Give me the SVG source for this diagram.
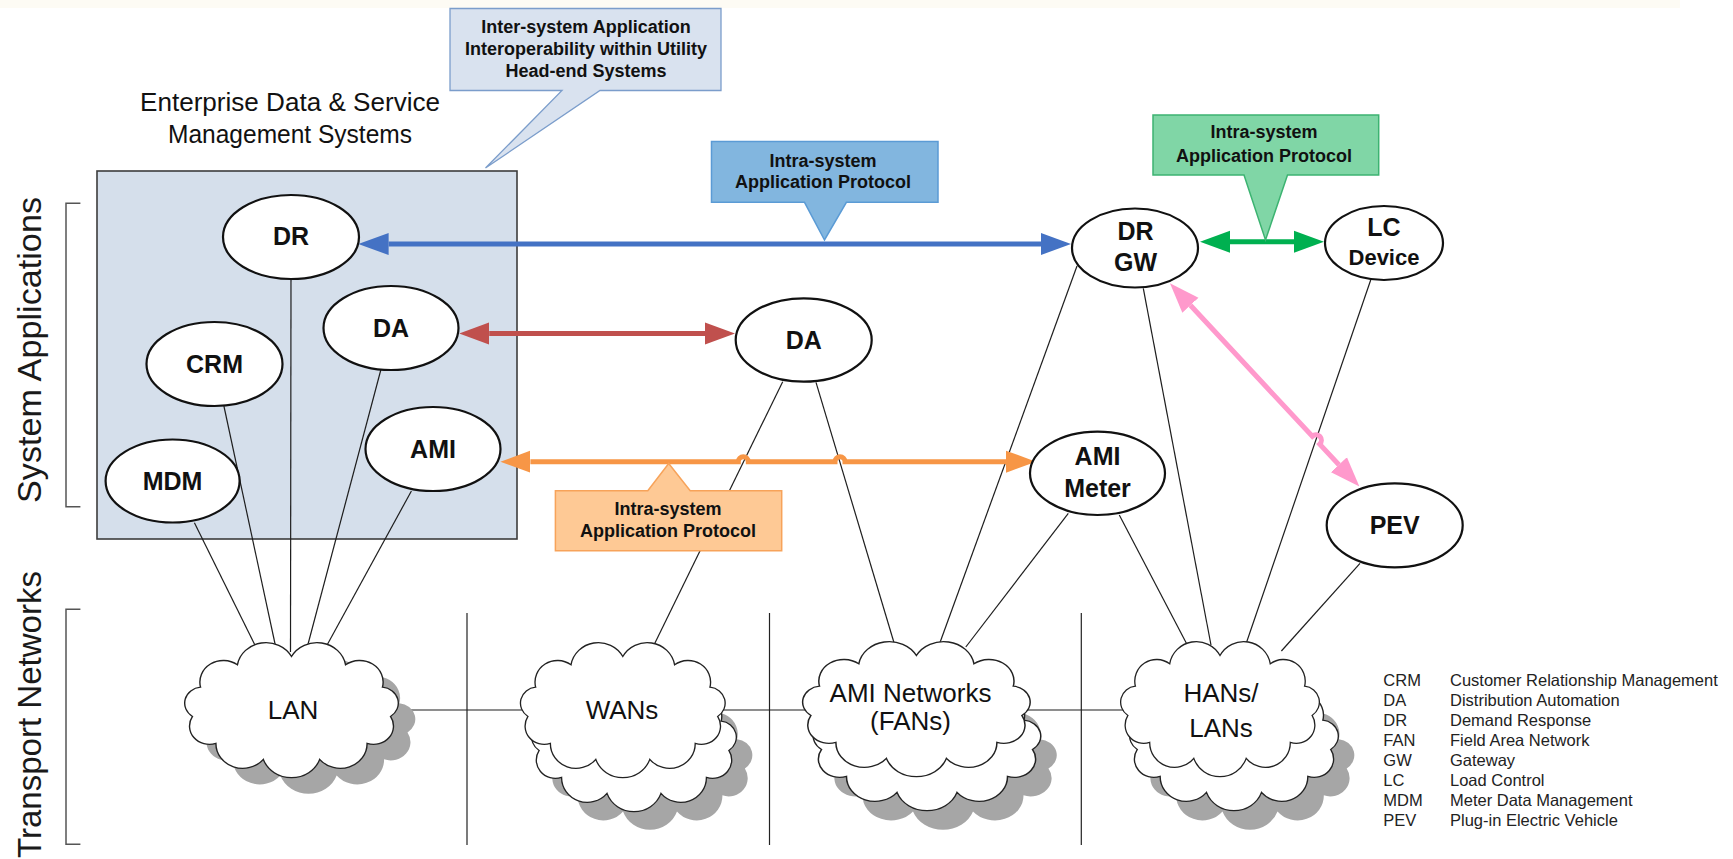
<svg xmlns="http://www.w3.org/2000/svg" width="1733" height="859" viewBox="0 0 1733 859">
  <style>
    text { font-family: "Liberation Sans", Arial, Helvetica, sans-serif; fill: #111; }
    .node ellipse { fill: #fff; stroke: #111; stroke-width: 2.2; }
    .node text { font-weight: bold; font-size: 25px; text-anchor: middle; }
    .node text.small { font-size: 22px; }
    .link { stroke: #1e1e1e; stroke-width: 1.2; fill: none; }
    .sep { stroke: #222; stroke-width: 1.2; }
    .bracket { fill: none; stroke: #555; stroke-width: 1.5; }
    .cloud { fill: #fff; stroke: #222; stroke-width: 1.3; }
    .cloud-shadow { fill: #a6a6a6; stroke: none; }
    .net text { font-size: 26px; text-anchor: middle; }
    .callout text { font-weight: bold; font-size: 18px; text-anchor: middle; }
    .legend text { font-size: 16.5px; fill: #222; }
    .proto { fill: none; stroke-width: 5; }
    .axis text { font-size: 34px; text-anchor: middle; fill: #1a1a1a; }
  </style>
  <defs>
    <!-- generic cloud outline centred on the origin, about 200 x 135 -->
    <path id="cloud" d="M0,-53 A27,27 0 0 1 50.3,-44.6 A21.8,21.8 0 0 1 84.6,-22 A16.1,16.1 0 0 1 92.1,7.5 A18.5,18.5 0 0 1 70.3,34.7 A24.9,24.9 0 0 1 26.2,50.9 A27.8,27.8 0 0 1 -26.2,50.9 A24.9,24.9 0 0 1 -70.3,34.7 A18.5,18.5 0 0 1 -92.1,7.5 A16.1,16.1 0 0 1 -84.6,-22 A21.8,21.8 0 0 1 -50.3,-44.6 A27,27 0 0 1 0,-53 Z"/>
    <marker id="ah-blue" viewBox="0 -12 30 24" refX="0" refY="0" markerWidth="30" markerHeight="24" markerUnits="userSpaceOnUse" orient="auto-start-reverse">
      <path d="M0,-11 L30,0 L0,11 z" fill="#4472c4"/>
    </marker>
    <marker id="ah-red" viewBox="0 -12 30 24" refX="0" refY="0" markerWidth="30" markerHeight="24" markerUnits="userSpaceOnUse" orient="auto-start-reverse">
      <path d="M0,-11 L30,0 L0,11 z" fill="#c0504d"/>
    </marker>
    <marker id="ah-orange" viewBox="0 -12 30 24" refX="0" refY="0" markerWidth="30" markerHeight="24" markerUnits="userSpaceOnUse" orient="auto-start-reverse">
      <path d="M0,-11 L30,0 L0,11 z" fill="#f79646"/>
    </marker>
    <marker id="ah-green" viewBox="0 -12 30 24" refX="0" refY="0" markerWidth="30" markerHeight="24" markerUnits="userSpaceOnUse" orient="auto-start-reverse">
      <path d="M0,-11 L30,0 L0,11 z" fill="#00b050"/>
    </marker>
    <marker id="ah-pink" viewBox="0 -12 30 24" refX="0" refY="0" markerWidth="30" markerHeight="24" markerUnits="userSpaceOnUse" orient="auto-start-reverse">
      <path d="M0,-11 L30,0 L0,11 z" fill="#ff99cc"/>
    </marker>
  </defs>

  <rect x="0" y="0" width="1733" height="859" fill="#fff"/>
  <rect x="0" y="0" width="1680" height="8" fill="#fdfbf4"/>

  <!-- layer labels and brackets -->
  <g id="axis" class="axis">
    <text transform="translate(41,350) rotate(-90)" textLength="306" lengthAdjust="spacingAndGlyphs">System Applications</text>
    <text transform="translate(41,714.5) rotate(-90)" textLength="287" lengthAdjust="spacingAndGlyphs">Transport Networks</text>
    <path class="bracket" d="M80.4,203.3 H66 V506.7 H80.4"/>
    <path class="bracket" d="M80.4,609.3 H66 V844.3 H80.4"/>
  </g>

  <!-- enterprise systems box -->
  <g id="enterprise">
    <rect x="97" y="171" width="420" height="368" fill="#d5dfeb" stroke="#3c3c3c" stroke-width="1.6"/>
    <text x="290" y="111" font-size="25" text-anchor="middle" textLength="300" lengthAdjust="spacingAndGlyphs">Enterprise Data &amp; Service</text>
    <text x="290" y="143" font-size="25" text-anchor="middle" textLength="244" lengthAdjust="spacingAndGlyphs">Management Systems</text>
  </g>

  <!-- zone separators -->
  <g id="separators">
    <line class="sep" x1="467" y1="613" x2="467" y2="845"/>
    <line class="sep" x1="769.5" y1="613" x2="769.5" y2="845"/>
    <line class="sep" x1="1081.3" y1="613" x2="1081.3" y2="845"/>
  </g>

  <!-- physical links between applications and networks -->
  <g id="connectors">
    <line class="link" x1="194.4" y1="522.7" x2="255.4" y2="646"/>
    <line class="link" x1="223.9" y1="406" x2="275.5" y2="646"/>
    <line class="link" x1="291" y1="279" x2="290.5" y2="652"/>
    <line class="link" x1="380.8" y1="370" x2="307" y2="648"/>
    <line class="link" x1="411.4" y1="491" x2="326" y2="647"/>
    <line class="link" x1="782.7" y1="381.7" x2="653" y2="647"/>
    <line class="link" x1="816" y1="382.3" x2="894.7" y2="645"/>
    <line class="link" x1="1077" y1="266" x2="938" y2="648"/>
    <line class="link" x1="1068.3" y1="513.3" x2="965.8" y2="647"/>
    <line class="link" x1="1119.3" y1="515" x2="1187.3" y2="645"/>
    <line class="link" x1="1143.3" y1="288.3" x2="1211" y2="645"/>
    <line class="link" x1="1370.7" y1="280" x2="1244.6" y2="648"/>
    <line class="link" x1="1360" y1="563.3" x2="1281.4" y2="651"/>
    <line class="link" x1="395" y1="710" x2="523" y2="710"/>
    <line class="link" x1="722" y1="710" x2="806" y2="710"/>
    <line class="link" x1="1027" y1="710" x2="1124" y2="710"/>

    <!-- application protocol arrows -->
    <path class="proto" stroke="#4472c4" d="M388.6,244 H1041" marker-start="url(#ah-blue)" marker-end="url(#ah-blue)"/>
    <path class="proto" stroke="#c0504d" d="M489.2,333.5 H705" marker-start="url(#ah-red)" marker-end="url(#ah-red)"/>
    <path class="proto" stroke="#f79646" d="M530.4,461.7 H738.3 A5,5 0 0 1 748.3,461.7 H835 A5,5 0 0 1 845,461.7 H1006" marker-start="url(#ah-orange)" marker-end="url(#ah-orange)"/>
    <path class="proto" stroke="#00b050" d="M1230,241.7 H1294" marker-start="url(#ah-green)" marker-end="url(#ah-green)"/>
    <path class="proto" stroke="#ff99cc" d="M1190.4,305.3 L1312.3,436.3 A5.4,5.4 0 0 1 1319.7,444.2 L1338.9,464.7" marker-start="url(#ah-pink)" marker-end="url(#ah-pink)"/>
  </g>

  <!-- transport networks -->
  <g id="net-lan" class="net">
    <use href="#cloud" class="cloud-shadow" transform="translate(308.5,725) scale(1.075,0.99)"/>
    <use href="#cloud" class="cloud" transform="translate(291.5,709) scale(1.075,0.99)"/>
    <text x="293" y="718.5">LAN</text>
  </g>
  <g id="net-wan" class="net">
    <use href="#cloud" class="cloud-shadow" transform="translate(650,761) scale(1.03,0.99)"/>
    <use href="#cloud" class="cloud" transform="translate(634,743) scale(1.03,0.99)"/>
    <use href="#cloud" class="cloud" transform="translate(622.8,709) scale(1.03,0.99)"/>
    <text x="622" y="718.5">WANs</text>
  </g>
  <g id="net-ami" class="net">
    <use href="#cloud" class="cloud-shadow" transform="translate(943,761) scale(1.145,0.99)"/>
    <use href="#cloud" class="cloud" transform="translate(927,742) scale(1.145,0.99)"/>
    <use href="#cloud" class="cloud" transform="translate(916.4,708) scale(1.145,0.99)"/>
    <text x="910.5" y="701.7" font-size="23">AMI Networks</text>
    <text x="910.5" y="730" font-size="23">(FANs)</text>
  </g>
  <g id="net-han" class="net">
    <use href="#cloud" class="cloud-shadow" transform="translate(1250,761) scale(1.05,0.99)"/>
    <use href="#cloud" class="cloud" transform="translate(1234,742) scale(1.05,0.99)"/>
    <use href="#cloud" class="cloud" transform="translate(1220,708) scale(1.0,0.99)"/>
    <text x="1221" y="701.7" font-size="28">HANs/</text>
    <text x="1221" y="737" font-size="28">LANs</text>
  </g>

  <!-- application nodes -->
  <g id="node-dr" class="node">
    <ellipse cx="291" cy="237" rx="68" ry="42"/>
    <text x="291" y="245">DR</text>
  </g>
  <g id="node-da-ent" class="node">
    <ellipse cx="391" cy="328" rx="67.5" ry="42"/>
    <text x="391" y="337">DA</text>
  </g>
  <g id="node-crm" class="node">
    <ellipse cx="214.5" cy="364" rx="68" ry="42"/>
    <text x="214.5" y="373">CRM</text>
  </g>
  <g id="node-mdm" class="node">
    <ellipse cx="172.6" cy="481" rx="67" ry="41.5"/>
    <text x="172.6" y="490">MDM</text>
  </g>
  <g id="node-ami-ent" class="node">
    <ellipse cx="433" cy="449" rx="67.5" ry="42"/>
    <text x="433" y="458">AMI</text>
  </g>
  <g id="node-da-field" class="node">
    <ellipse cx="803.7" cy="340" rx="68" ry="41.7"/>
    <text x="803.7" y="349">DA</text>
  </g>
  <g id="node-drgw" class="node">
    <ellipse cx="1135" cy="248" rx="63" ry="39.5"/>
    <text x="1135.5" y="239.5">DR</text>
    <text x="1135.5" y="270.7">GW</text>
  </g>
  <g id="node-lc" class="node">
    <ellipse cx="1384" cy="243" rx="59" ry="37"/>
    <text x="1384" y="236">LC</text>
    <text class="small" x="1384" y="265">Device</text>
  </g>
  <g id="node-ami-meter" class="node">
    <ellipse cx="1097.5" cy="473.3" rx="67.5" ry="41.7"/>
    <text x="1097.5" y="465">AMI</text>
    <text x="1097.5" y="496.7">Meter</text>
  </g>
  <g id="node-pev" class="node">
    <ellipse cx="1394.7" cy="525.3" rx="68" ry="42"/>
    <text x="1394.7" y="534.3">PEV</text>
  </g>

  <!-- callouts -->
  <g id="callout-inter" class="callout">
    <path d="M450,8.5 H721 V90.5 H600 L485.5,168 L562,90.5 H450 Z" fill="#d9e2ef" stroke="#7b9dcb" stroke-width="1.3"/>
    <text x="586" y="33">Inter-system Application</text>
    <text x="586" y="55">Interoperability within Utility</text>
    <text x="586" y="77">Head-end Systems</text>
  </g>
  <g id="callout-blue" class="callout">
    <path d="M711.5,141.5 H938 V202.3 H846.4 L824.5,240 L804.5,202.3 H711.5 Z" fill="#82b6df" stroke="#5b9bd5" stroke-width="1.5"/>
    <text x="823" y="166.7">Intra-system</text>
    <text x="823" y="188.3">Application Protocol</text>
  </g>
  <g id="callout-green" class="callout">
    <path d="M1153,115 H1378.7 V175 H1287.5 L1265.5,240 L1244,175 H1153 Z" fill="#80d6a6" stroke="#3cb371" stroke-width="1.5"/>
    <text x="1264" y="138.3">Intra-system</text>
    <text x="1264" y="161.7">Application Protocol</text>
  </g>
  <g id="callout-orange" class="callout">
    <path d="M555.4,490.7 H647.8 L668.7,463.5 L690.2,490.7 H781.7 V550.7 H555.4 Z" fill="#fec995" stroke="#f7a35a" stroke-width="1.5"/>
    <text x="668" y="515">Intra-system</text>
    <text x="668" y="536.7">Application Protocol</text>
  </g>

  <!-- abbreviation key -->
  <g id="legend" class="legend">
    <text x="1383.3" y="685.7">CRM</text><text x="1450" y="685.7">Customer Relationship Management</text>
    <text x="1383.3" y="705.7">DA</text><text x="1450" y="705.7">Distribution Automation</text>
    <text x="1383.3" y="725.7">DR</text><text x="1450" y="725.7">Demand Response</text>
    <text x="1383.3" y="745.7">FAN</text><text x="1450" y="745.7">Field Area Network</text>
    <text x="1383.3" y="765.7">GW</text><text x="1450" y="765.7">Gateway</text>
    <text x="1383.3" y="785.7">LC</text><text x="1450" y="785.7">Load Control</text>
    <text x="1383.3" y="805.7">MDM</text><text x="1450" y="805.7">Meter Data Management</text>
    <text x="1383.3" y="825.7">PEV</text><text x="1450" y="825.7">Plug-in Electric Vehicle</text>
  </g>
</svg>
